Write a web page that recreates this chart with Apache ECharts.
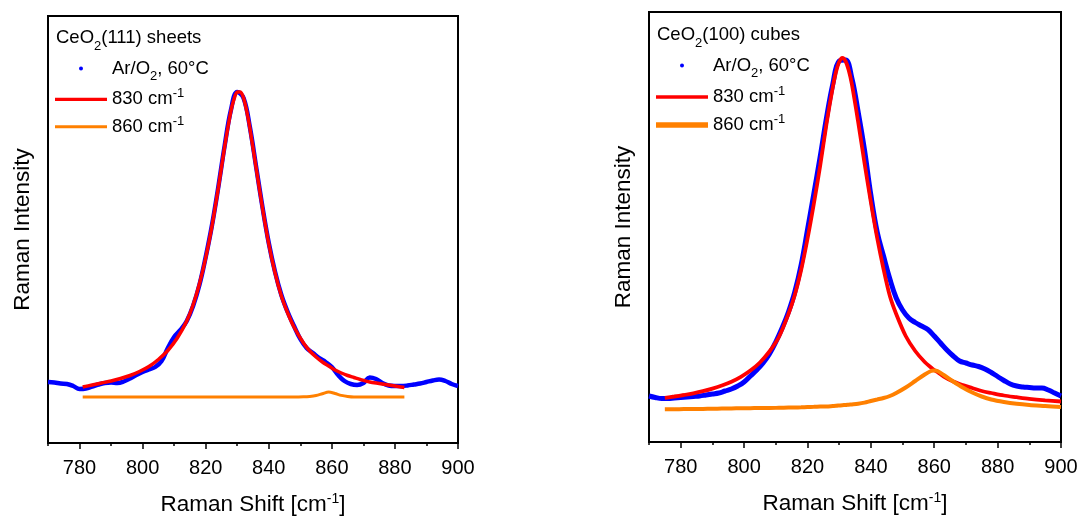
<!DOCTYPE html>
<html>
<head>
<meta charset="utf-8">
<script src="https://cdn.jsdelivr.net/npm/echarts@6/dist/echarts.min.js"></script>
<style>
  html, body { margin: 0; padding: 0; background: #fff; }
  #chart { width: 1082px; height: 518px; }
</style>
</head>
<body>
<div id="chart"></div>
<script>
// ---- CeO2(111) sheets: measured spectrum (Raman shift in cm-1, intensity in a.u.) ----
const sheetsShift = [770, 772, 774, 776, 778, 780, 782, 784, 786, 788, 790, 792, 794, 796, 798, 800,
  802, 804, 806, 808, 810, 812, 814, 816, 818, 820, 822, 824, 826, 828, 830, 832, 834, 836, 838, 840,
  842, 844, 846, 848, 850, 852, 854, 856, 858, 860, 862, 864, 866, 868, 870, 872, 874, 876, 878, 880,
  882, 884, 886, 888, 890, 892, 894, 896, 898, 900];
const sheetsIntensity = [61, 60.5, 59.5, 59, 57, 54, 54.5, 56.5, 58.5, 60, 60.5, 60, 61.5, 64.5, 68, 71,
  73.5, 76, 82, 95, 106, 113, 122, 137, 158, 186, 218, 256, 297, 333, 351, 345, 316, 276, 236, 200,
  171, 148, 131, 117, 104, 95, 90, 85, 81, 76, 68, 62, 59, 58, 60, 65.5, 64, 60, 57.5, 57,
  57, 57.5, 58.5, 59.5, 61, 62.5, 63.5, 62, 59, 57];

// fitted components of the sheets spectrum
const sheetsFitShift = [781, 784, 787, 790, 793, 796, 799, 802, 805, 808, 811, 814, 816, 818, 820, 822,
  824, 826, 828, 829, 830, 831, 832, 833, 834, 836, 838, 840, 842, 844, 846, 848, 851, 853, 855, 857,
  859, 861, 863, 865, 867, 869, 872, 875, 878, 881, 883];
const sheetsFit830 = [56, 58, 60, 62, 64.5, 67.5, 71.5, 76.5, 83.5, 92.5, 105, 122, 138, 159, 185, 217,
  255, 296, 332, 344, 351, 351, 345, 332, 315, 275, 235, 199, 170, 147, 130, 116, 100, 92, 86, 81,
  77, 73, 70, 67.5, 65.5, 63.5, 61, 59.5, 58, 56.5, 55.5];
const sheetsFit860 = [46, 46, 46, 46, 46, 46, 46, 46, 46, 46, 46, 46, 46, 46, 46, 46,
  46, 46, 46, 46, 46, 46, 46, 46, 46, 46, 46, 46, 46, 46, 46, 46, 46.2, 46.6, 47.5, 49.3,
  51, 49.5, 47.6, 46.5, 46, 46, 46, 46, 46, 46, 46];

// ---- CeO2(100) cubes: measured spectrum ----
const cubesShift = sheetsShift.slice();
const cubesIntensity = [46, 44.5, 43.5, 43.5, 44, 44.5, 45, 45.5, 46, 47, 48, 49, 51, 53, 56, 60,
  66, 72, 79, 88, 100, 114, 130, 150, 177, 212, 248, 285, 324, 358, 381, 382, 364, 330, 292, 247,
  210, 186, 163, 144, 132, 124, 119.5, 116, 112.5, 106, 99, 92, 86, 81, 79, 77, 75.5, 73, 69.5, 65.5,
  61.5, 58, 56, 55, 54.5, 54, 54, 52, 49, 46];

// fitted components of the cubes spectrum
const cubesFitShift = [775, 778, 781, 784, 787, 790, 793, 796, 799, 802, 805, 808, 811, 814, 816, 818,
  820, 822, 824, 826, 828, 829, 830, 831, 832, 833, 834, 836, 838, 840, 842, 844, 846, 848, 851, 854,
  857, 859, 860, 861, 863, 866, 869, 872, 875, 878, 882, 886, 890, 895, 900];
const cubesFit830 = [44.2, 45.5, 47, 48.7, 50.8, 53.4, 56.5, 60.3, 65.2, 71.4, 79.5, 90.5, 105, 128, 147, 172,
  203, 238, 276, 318, 355, 370, 380, 384, 381, 372, 358, 320, 279, 240, 204, 173, 146, 128, 106, 91,
  80, 74.5, 72, 70, 65.5, 60.5, 57, 54, 51, 49, 46.5, 44.8, 43.2, 41.7, 40.5];
const cubesFit860 = [32.7, 32.8, 32.9, 33, 33.1, 33.2, 33.4, 33.6, 33.7, 33.8, 34, 34, 34.2, 34.4, 34.5, 34.7,
  35, 35.2, 35.4, 35.6, 36, 36.2, 36.5, 36.8, 37, 37.3, 37.6, 38.3, 39.4, 41, 42.5, 44, 46, 49, 54.5, 61,
  67.5, 71, 71.5, 71, 67, 60.5, 54.5, 49.5, 45.5, 42.5, 40, 38.2, 37, 36, 35];

// x-axis tick positions and labels
const majorTicks = [780, 800, 820, 840, 860, 880, 900];
const minorTicks = [770, 790, 810, 830, 850, 870, 890];

const FONT = '"Liberation Sans", Arial, Helvetica, sans-serif';
const BLUE = '#0000ff', RED = '#ff0000', ORANGE = '#ff8000';

const zip = (xs, ys) => xs.map((x, i) => [x, ys[i]]);

// rich-text styles: regular text, subscript (padded from above, bottom-aligned)
// and superscript (padded from below, top-aligned)
function richSet(size, subSize, supSize, subPad, supPad) {
  return {
    t: { fontSize: size, fontFamily: FONT, color: '#000', verticalAlign: 'middle' },
    sub: { fontSize: subSize, padding: [subPad, 0, 0, 0],
           verticalAlign: 'bottom', fontFamily: FONT, color: '#000' },
    sup: { fontSize: supSize, padding: [0, 0, supPad, 0],
           verticalAlign: 'top', fontFamily: FONT, color: '#000' }
  };
}
const legendRich = richSet(18.5, 13, 13, 16, 11);
const axisRich = richSet(22.5, 14, 14, 16, 12);

const labels = {
  sheetsMeasured: '{t|Ar/O}{sub|2}{t|, 60°C}',
  sheetsFit830: '{t|830 cm}{sup|-1}',
  sheetsFit860: '{t|860 cm}{sup|-1}',
  cubesMeasured: '{t|Ar/O}{sub|2}{t|, 60°C}',
  cubesFit830: '{t|830 cm}{sup|-1}',
  cubesFit860: '{t|860 cm}{sup|-1}'
};

// one legend entry; a circle icon only occupies the middle of the item box,
// so its legend is placed by the dot's left edge
function legendItem(name, left, top, icon, w, h) {
  return {
    data: [{ name: name, icon: icon }],
    left: left, top: top, padding: 0,
    itemWidth: w, itemHeight: h,
    symbolKeepAspect: false,
    itemStyle: { borderWidth: 0 },
    selectedMode: false,
    formatter: n => labels[n],
    textStyle: { fontFamily: FONT, fontSize: 18.5, color: '#000', rich: legendRich }
  };
}

function mainXAxis(gridIndex) {
  return {
    type: 'value', gridIndex: gridIndex, min: 770, max: 900, position: 'bottom',
    name: '{t|Raman Shift [cm}{sup|-1}{t|]}',
    nameLocation: 'middle', nameGap: 49,
    nameTextStyle: { fontFamily: FONT, fontSize: 22.5, color: '#000', rich: axisRich },
    axisLine: { show: true, onZero: false, lineStyle: { color: '#000', width: 2 } },
    axisTick: { show: true, inside: false, length: 6, customValues: majorTicks,
                lineStyle: { color: '#000', width: 1.5 } },
    axisLabel: { show: true, customValues: majorTicks, fontSize: 20, margin: 15,
                 color: '#000', fontFamily: FONT },
    splitLine: { show: false }
  };
}
function minorXAxis(gridIndex) {
  return {
    type: 'value', gridIndex: gridIndex, min: 770, max: 900, position: 'bottom',
    axisLine: { show: false, onZero: false },
    axisTick: { show: true, inside: false, length: 3, customValues: minorTicks,
                lineStyle: { color: '#000', width: 1.5 } },
    axisLabel: { show: false },
    splitLine: { show: false }
  };
}
function yAxisFor(gridIndex, max) {
  return {
    type: 'value', gridIndex: gridIndex, min: 0, max: max,
    axisLine: { show: false }, axisTick: { show: false },
    axisLabel: { show: false }, splitLine: { show: false },
    name: 'Raman Intensity', nameLocation: 'middle', nameGap: 14,
    nameTextStyle: { fontFamily: FONT, fontSize: 22.5, color: '#000' }
  };
}
function lineSeries(name, xi, yi, data, color, width, smooth) {
  return {
    type: 'line', name: name, xAxisIndex: xi, yAxisIndex: yi, data: data,
    symbol: 'none', smooth: smooth, silent: true,
    lineStyle: { color: color, width: width }, itemStyle: { color: color }
  };
}

const chart = echarts.init(document.getElementById('chart'), null, { renderer: 'canvas' });
chart.setOption({
  animation: false,
  backgroundColor: '#fff',
  title: [
    { text: '{t|CeO}{sub|2}{t|(111) sheets}', left: 56, top: 23.5, padding: 0,
      textStyle: { fontFamily: FONT, fontSize: 18.5, color: '#000', fontWeight: 'normal', rich: legendRich } },
    { text: '{t|CeO}{sub|2}{t|(100) cubes}', left: 657, top: 20.5, padding: 0,
      textStyle: { fontFamily: FONT, fontSize: 18.5, color: '#000', fontWeight: 'normal', rich: legendRich } }
  ],
  legend: [
    legendItem('sheetsMeasured', 79, 59, 'circle', 52, 4),
    legendItem('sheetsFit830', 55, 87.3, 'rect', 52, 3.3),
    legendItem('sheetsFit860', 55, 114.7, 'rect', 52, 3),
    legendItem('cubesMeasured', 680, 56, 'circle', 52, 4),
    legendItem('cubesFit830', 656, 85, 'rect', 52, 3.3),
    legendItem('cubesFit860', 656, 113.1, 'rect', 52, 5.5)
  ],
  grid: [
    { left: 48, top: 16, width: 410, height: 427, show: true, borderColor: '#000', borderWidth: 2,
      backgroundColor: 'transparent', containLabel: false, outerBoundsMode: 'none' },
    { left: 649, top: 12, width: 412, height: 430, show: true, borderColor: '#000', borderWidth: 2,
      backgroundColor: 'transparent', containLabel: false, outerBoundsMode: 'none' }
  ],
  xAxis: [mainXAxis(0), minorXAxis(0), mainXAxis(1), minorXAxis(1)],
  yAxis: [yAxisFor(0, 427), yAxisFor(1, 430)],
  series: [
    lineSeries('sheetsMeasured', 0, 0, zip(sheetsShift, sheetsIntensity), BLUE, 4.5, 0.4),
    lineSeries('sheetsFit830', 0, 0, zip(sheetsFitShift, sheetsFit830), RED, 3.5, 0.3),
    lineSeries('sheetsFit860', 0, 0, zip(sheetsFitShift, sheetsFit860), ORANGE, 3, 0.3),
    lineSeries('cubesMeasured', 2, 1, zip(cubesShift, cubesIntensity), BLUE, 5, 0.4),
    lineSeries('cubesFit830', 2, 1, zip(cubesFitShift, cubesFit830), RED, 3.8, 0.3),
    lineSeries('cubesFit860', 2, 1, zip(cubesFitShift, cubesFit860), ORANGE, 4, 0.3)
  ]
});
</script>
</body>
</html>
